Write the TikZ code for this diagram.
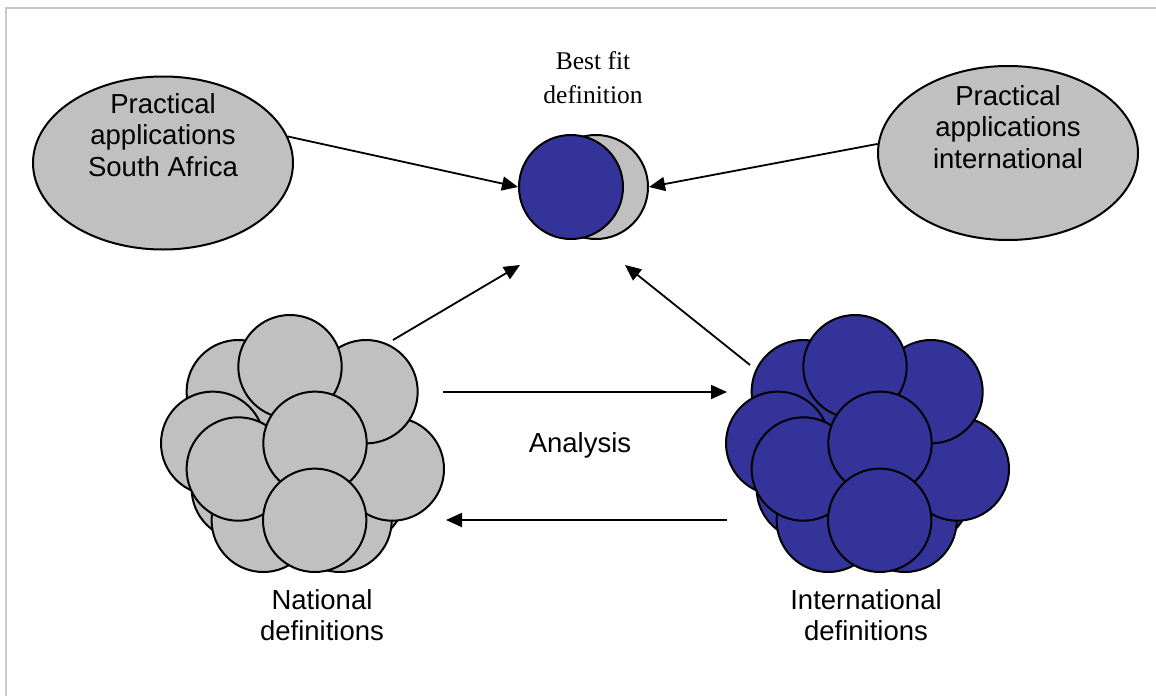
\documentclass[tikz,border=0pt]{standalone}
\usepackage{fontspec}
\setmainfont{Liberation Sans}
\newfontfamily\timesfont{Liberation Serif}
\usetikzlibrary{arrows.meta,shapes.geometric}
\definecolor{ggray}{HTML}{C0C0C0}
\definecolor{gblue}{HTML}{333399}
\definecolor{framegray}{HTML}{CACACA}
\newcommand\drawcluster[2]{%
  \foreach \nm/\cx/\cy in {h1/243.3/488.3, h2/353.3/493.3, cI/263.3/520.3, cJ/340/520.3,
      cB/238.3/391.7, cG/392.3/469, cC/366/391.7, cA/290/366.7, cD/212.7/443.3,
      cE/238.3/469, cF/315/443.3, cH/314.7/520.3}{
    \node[ball, fill=#1] (#2-\nm) at (\cx,\cy) {};
  }%
}
\begin{document}
\begin{tikzpicture}[x=1pt,y=-1pt,
  ball/.style={circle,draw=black,line width=2pt,inner sep=0pt,minimum size=103.4pt},
  oval/.style={ellipse,draw=black,line width=2pt,fill=ggray,inner sep=0pt},
  lbl/.style={font=\fontsize{27.5}{31.5}\selectfont,align=center,inner sep=0pt},
  tlbl/.style={font=\timesfont\fontsize{25.5}{34}\selectfont,align=center,inner sep=0pt},
  conn/.style={line width=1.8pt,-{Triangle[length=16pt,width=14pt]}},
  framel/.style={draw=framegray,line width=2pt}]
\useasboundingbox (0,0) rectangle (1156,696);
\draw[framel] (6,696) -- (6,7.5) -- (1156,7.5);

% top ellipses
\node[oval,minimum width=260pt,minimum height=173pt] (ellL) at (163,163) {};
\node[lbl] (txtL) at (163,135) {Practical\\applications\\South Africa};
\node[oval,minimum width=260pt,minimum height=174pt] (ellR) at (1008,153) {};
\node[lbl] (txtR) at (1008,127) {Practical\\applications\\international};

% best fit
\node[ball,fill=ggray,minimum size=104pt] (bestg) at (596,187) {};
\node[ball,fill=gblue,minimum size=104pt] (bestb) at (571,187) {};
\node[tlbl] (besttxt) at (593,78) {Best fit\\definition};

% clusters
\drawcluster{ggray}{nat}
\begin{scope}[xshift=565pt]
\drawcluster{gblue}{int}
\end{scope}

\node[lbl] (nattxt) at (322,615) {National\\definitions};
\node[lbl] (inttxt) at (866,615) {International\\definitions};
\node[lbl] (analysis) at (580,445) {Analysis};

% connectors
\coordinate (natout) at (393,340);
\coordinate (natin) at (520,265);
\coordinate (intout) at (750,365);
\coordinate (intin) at (625,265);
\coordinate (toint) at (727,392);
\coordinate (fromnat) at (443,392);
\coordinate (fromint) at (727,520);
\coordinate (tonat) at (446,520);

\draw[conn] (ellL.12) -- (bestb.west);
\draw[conn] (ellR.176) -- (bestg.east);
\draw[conn] (natout) -- (natin);
\draw[conn] (intout) -- (intin);
\draw[conn] (fromnat) -- (toint);
\draw[conn] (fromint) -- (tonat);
\end{tikzpicture}
\end{document}
